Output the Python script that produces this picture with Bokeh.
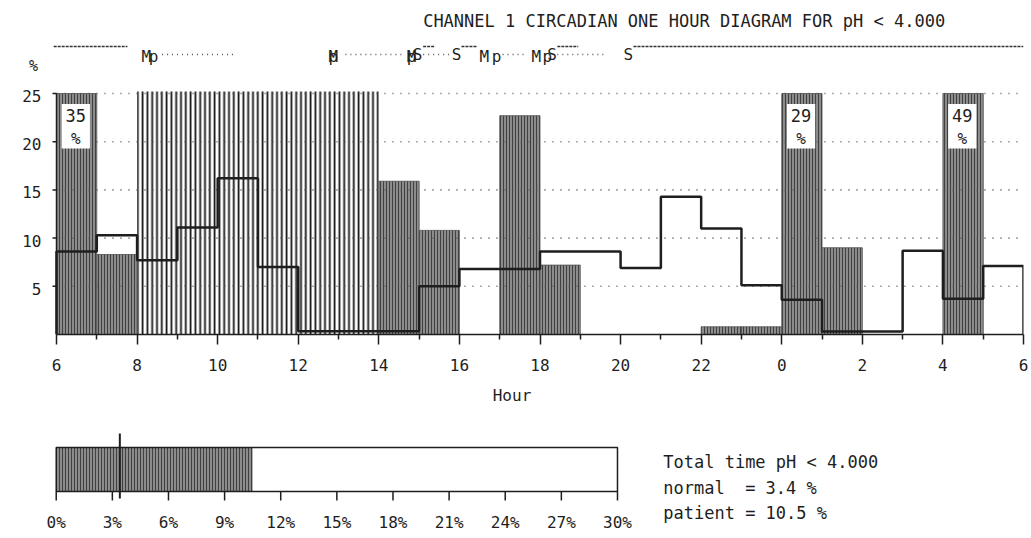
from bokeh.plotting import figure
from bokeh.models import Range1d, FixedTicker
from bokeh.layouts import column
from bokeh.core.properties import value
from bokeh.embed import file_html
from bokeh.resources import INLINE

FONT = "DejaVu Sans Mono"
INK = "#1e1e1e"

# ---------------- data ----------------
title_text = "CHANNEL 1 CIRCADIAN ONE HOUR DIAGRAM FOR pH < 4.000"
hour_start = 6
# % time pH < 4 per clock hour (06..05 next day); None = excluded (hatched) period
patient = [35, 8.3, None, None, None, None, None, None, 15.9, 10.8, 0, 22.7,
           7.2, 0, 0, 0, 0.8, 0.8, 29, 9.0, 0, 0, 49, 0]
# normal values, drawn as the step line
normal = [8.6, 10.3, 7.7, 11.1, 16.2, 7.0, 0.35, 0.35, 0.35, 5.0, 6.8, 6.8,
          8.6, 8.6, 6.9, 14.3, 11.0, 5.1, 3.6, 0.3, 0.3, 8.7, 3.7, 7.1]
excluded_start = [8]
excluded_end = [14]
y_cap = 25
grid_levels = [5, 10, 15, 20, 25]
x_ticks = list(range(6, 31, 2))
x_minor = list(range(7, 30, 2))
x_tick_labels = ["6", "8", "10", "12", "14", "16", "18", "20", "22", "0", "2", "4", "6"]

# event row (hours on the same axis)
meal_marks = [8.23, 12.87, 14.81, 16.62, 17.91]          # "M"
p_marks = [8.41, 12.87, 14.81, 16.92, 18.18]             # "p"
supine_marks = [14.96, 15.93, 18.30, 20.19]              # "S"
supine_start = [5.93, 15.10, 16.05, 18.43, 20.32]
supine_end = [7.76, 15.40, 16.45, 18.95, 30.0]
meal_start = [8.62, 13.17, 15.10, 17.07, 18.43]
meal_end = [10.39, 14.60, 15.75, 17.69, 19.57]

# totals
total_ticks = list(range(0, 31, 3))
total_tick_labels = [f"{t}%" for t in total_ticks]
normal_total = 3.4
patient_total = 10.5
total_max = 30
threshold = "4.000"

# ---------------- main chart ----------------
PPX = (1023 - 56) / 24.0      # pixels per hour
PPY = 9.64                    # pixels per %
W = 1028
p1 = figure(width=W, height=409,
            x_range=Range1d(6 - 56 / PPX, 6 + (W - 5 - 56) / PPX),
            y_range=Range1d(0, 334 / PPY),
            output_backend="svg", toolbar_location=None, y_axis_location=None,
            min_border_left=0, min_border_right=5, min_border_top=0, min_border_bottom=75)
p1.outline_line_color = None
p1.grid.visible = False
p1.background_fill_color = "white"

# excluded (hatched) period
p1.quad(left=excluded_start, right=excluded_end, bottom=[0], top=[y_cap + 0.2],
        fill_color="white", line_color=None,
        hatch_pattern="vertical_line", hatch_color="#151515", hatch_scale=4.8, hatch_weight=1.8)

# patient bars
bl, br, bt = [], [], []
lab_x, lab_v = [], []
for i, v in enumerate(patient):
    if v is None or v <= 0:
        continue
    h = hour_start + i
    bl.append(h); br.append(h + 1); bt.append(min(v, y_cap))
    if v > y_cap:
        lab_x.append(h); lab_v.append(v)
p1.quad(left=bl, right=br, bottom=0, top=bt, fill_color="#8c8c8c", line_color="#505050", line_width=0.8,
        hatch_pattern="vertical_line", hatch_color="#404040", hatch_scale=3, hatch_weight=1)

# dotted grid (from the axis to the right end)
p1.segment(x0=6, y0=grid_levels, x1=30, y1=grid_levels,
           line_color="#5a5a5a", line_width=1.6, line_dash="1 7")

# value boxes for clipped bars
p1.rect(x=[h + 0.48 for h in lab_x], y=21.6, width=0.7, height=4.6,
        fill_color="white", line_color=None)
p1.text(x=[h + 0.48 for h in lab_x], y=22.75, text=[str(v) for v in lab_v],
        text_font=value(FONT), text_font_size="17px", text_color=INK,
        text_align="center", text_baseline="middle")
p1.text(x=[h + 0.48 for h in lab_x], y=20.35, text=["%"] * len(lab_x),
        text_font=value(FONT), text_font_size="16px", text_color=INK,
        text_align="center", text_baseline="middle")

# normal step line
sx, sy = [hour_start], [0]
for i, v in enumerate(normal):
    h = hour_start + i
    sx += [h, h + 1]; sy += [v, v]
sx.append(hour_start + len(normal)); sy.append(0)
p1.line(sx, sy, line_color=INK, line_width=2.5)

# left axis line, ticks and labels
p1.segment(x0=[6], y0=[0], x1=[6], y1=[y_cap], line_color=INK, line_width=1.5)
p1.segment(x0=6 - 4 / PPX, y0=grid_levels, x1=6, y1=grid_levels, line_color=INK, line_width=1.5)
p1.text(x=6 - 15 / PPX, y=[g - 0.25 for g in grid_levels], text=[str(g) for g in grid_levels],
        text_font=value(FONT), text_font_size="16px", text_color=INK,
        text_align="right", text_baseline="middle")
p1.text(x=[6 - 23 / PPX], y=[(334 - 65) / PPY], text=["%"], text_font=value(FONT),
        text_font_size="15px", text_color=INK, text_align="center", text_baseline="middle")

# title
p1.text(x=[15.1], y=[(334 - 20) / PPY], text=[title_text], text_font=value(FONT), text_font_size="17px",
        text_color=INK, text_align="left", text_baseline="middle")

# event row
p1.segment(x0=supine_start, y0=(334 - 46) / PPY, x1=supine_end, y1=(334 - 46) / PPY,
           line_color="#333333", line_width=1.3, line_dash="3 1")
p1.segment(x0=meal_start, y0=(334 - 54) / PPY, x1=meal_end, y1=(334 - 54) / PPY,
           line_color="#555555", line_width=1.4, line_dash="1 4")
ev_base = (334 - 56) / PPY
p1.text(x=meal_marks, y=ev_base, text=["M"] * len(meal_marks), text_font=value(FONT),
        text_font_size="16px", text_color=INK, text_align="center", text_baseline="alphabetic")
p1.text(x=p_marks, y=ev_base, text=["p"] * len(p_marks), text_font=value(FONT),
        text_font_size="16px", text_color=INK, text_align="center", text_baseline="alphabetic")
p1.text(x=supine_marks, y=ev_base + 0.25, text=["S"] * len(supine_marks), text_font=value(FONT),
        text_font_size="16px", text_color=INK, text_align="center", text_baseline="alphabetic")

xa = p1.xaxis[0]
xa.bounds = (6, 30)
xa.ticker = FixedTicker(ticks=x_ticks, minor_ticks=x_minor)
xa.major_label_overrides = {t: l for t, l in zip(x_ticks, x_tick_labels)}
xa.axis_label = "Hour"
xa.axis_label_text_font = FONT
xa.axis_label_text_font_size = "16px"
xa.axis_label_text_font_style = "normal"
xa.axis_label_text_color = INK
xa.axis_label_standoff = 12
xa.major_label_text_font = FONT
xa.major_label_text_font_size = "16px"
xa.major_label_text_color = INK
xa.major_label_standoff = 14
xa.major_tick_out = 10
xa.major_tick_in = 0
xa.minor_tick_out = 5
xa.minor_tick_in = 0
xa.axis_line_width = 1.5
xa.major_tick_line_width = 1.5
xa.minor_tick_line_width = 1.5
xa.axis_line_color = INK
xa.major_tick_line_color = INK
xa.minor_tick_line_color = INK

# ---------------- totals bar ----------------
PPP = (620 - 56) / total_max   # pixels per percent
PPB = 44.0                     # pixels per box unit
H2 = 123
p2 = figure(width=W, height=H2,
            x_range=Range1d(-56 / PPP, (W - 56) / PPP),
            y_range=Range1d(-(532 - 491) / PPB, (491 - 409) / PPB),
            output_backend="svg", toolbar_location=None,
            x_axis_location=None, y_axis_location=None,
            min_border_left=0, min_border_right=0, min_border_top=0, min_border_bottom=0)
p2.outline_line_color = None
p2.grid.visible = False

p2.quad(left=[0], right=[patient_total], bottom=[0], top=[1], fill_color="#8c8c8c", line_color=None,
        hatch_pattern="vertical_line", hatch_color="#404040", hatch_scale=3, hatch_weight=1)
p2.quad(left=[0], right=[total_max], bottom=[0], top=[1], fill_color=None, line_color=INK, line_width=1.5)
p2.segment(x0=[normal_total], y0=[-7 / PPB], x1=[normal_total], y1=[(491 - 433) / PPB],
           line_color=INK, line_width=2)
p2.segment(x0=total_ticks, y0=0, x1=total_ticks, y1=-9 / PPB, line_color=INK, line_width=1.5)
p2.text(x=total_ticks, y=-(522 - 491) / PPB, text=total_tick_labels, text_font=value(FONT),
        text_font_size="16px", text_color=INK, text_align="center", text_baseline="middle")

text_x = (666 - 56) / PPP
lines = [f"Total time pH < {threshold}",
         f"normal\u00a0 = {normal_total} %",
         f"patient = {patient_total} %"]
line_y = [(491 - 461) / PPB, (491 - 487) / PPB, (491 - 512) / PPB]
p2.text(x=text_x, y=line_y, text=lines, text_font=value(FONT), text_font_size="17px",
        text_color=INK, text_align="left", text_baseline="middle")

layout = column(p1, p2, spacing=0)
open("out.html", "w").write(file_html(layout, INLINE))
